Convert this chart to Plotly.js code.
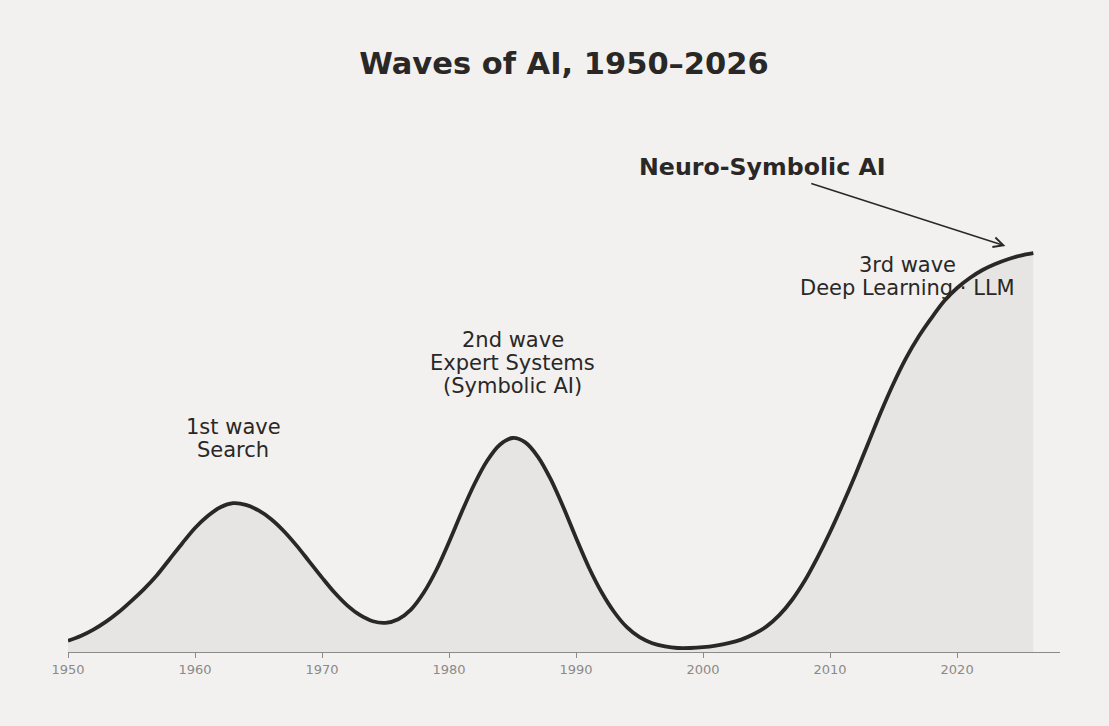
<!DOCTYPE html>
<html>
<head>
<meta charset="utf-8">
<script src="https://cdn.plot.ly/plotly-3.0.1.min.js"></script>
<style>html,body{margin:0;padding:0;background:#f2f1ef;}#chart{width:1109px;height:726px;}</style>
</head>
<body>
<div id="chart"></div>
<script>
// Years 1950–2026 and the "AI activity" curve (relative units, 2026 ≈ 1)
const years = [1950,1951,1952,1953,1954,1955,1956,1957,1958,1959,
  1960,1961,1962,1963,1964,1965,1966,1967,1968,1969,
  1970,1971,1972,1973,1974,1975,1976,1977,1978,1979,
  1980,1981,1982,1983,1984,1985,1986,1987,1988,1989,
  1990,1991,1992,1993,1994,1995,1996,1997,1998,1999,
  2000,2001,2002,2003,2004,2005,2006,2007,2008,2009,
  2010,2011,2012,2013,2014,2015,2016,2017,2018,2019,
  2020,2021,2022,2023,2024,2025,2026];
const activity = [0.028,0.040,0.056,0.076,0.100,0.128,0.158,0.192,0.232,0.272,
  0.310,0.340,0.362,0.372,0.368,0.354,0.332,0.302,0.266,0.226,
  0.186,0.148,0.116,0.092,0.077,0.073,0.082,0.106,0.148,0.205,
  0.275,0.350,0.420,0.478,0.518,0.535,0.524,0.488,0.432,0.362,
  0.285,0.212,0.150,0.100,0.062,0.037,0.022,0.014,0.010,0.010,
  0.012,0.016,0.022,0.031,0.045,0.064,0.092,0.130,0.178,0.236,
  0.300,0.370,0.444,0.522,0.600,0.672,0.736,0.790,0.836,0.878,
  0.910,0.935,0.955,0.970,0.982,0.991,0.997];

// Wave labels
const waveX = [1963, 1985, 2016.1];
const waveY = [0.534, 0.722, 0.939];
const waveLines = [["1st wave","Search"],["2nd wave","Expert Systems","(Symbolic AI)"],["3rd wave","Deep Learning · LLM"]];

const calloutText = "Neuro-Symbolic AI";
const calloutPos = [2004.7, 1.2125];
const arrowHead = [2023.8, 1.015];
const arrowTail = [2008.4, 1.1725];

const tickVals = [1950,1960,1970,1980,1990,2000,2010,2020];
const tickText = ["1950","1960","1970","1980","1990","2000","2010","2020"];

const ink = '#2a2826';
const font = 'DejaVu Sans, sans-serif';

const annotations = [];
const lineGap = 23;
waveLines.forEach((lines, i) => {
  const n = lines.length;
  lines.forEach((t, j) => {
    annotations.push({
      x: waveX[i], y: waveY[i], xref: 'x', yref: 'y',
      text: t, showarrow: false,
      xanchor: 'center', yanchor: 'middle',
      yshift: ((n - 1) / 2 - j) * lineGap,
      font: {family: font, size: 21, color: ink}
    });
  });
});
annotations.push({
  x: calloutPos[0], y: calloutPos[1], xref: 'x', yref: 'y',
  text: '<b>' + calloutText + '</b>', showarrow: false,
  xanchor: 'center', yanchor: 'middle',
  font: {family: font, size: 23.7, color: ink}
});
annotations.push({
  x: arrowHead[0], y: arrowHead[1], xref: 'x', yref: 'y',
  ax: arrowTail[0], ay: arrowTail[1], axref: 'x', ayref: 'y',
  text: '', showarrow: true, arrowhead: 5, arrowsize: 1.3, arrowwidth: 1.5,
  arrowcolor: ink, standoff: 0, startstandoff: 0
});

const trace = {
  x: years, y: activity, type: 'scatter', mode: 'lines',
  line: {color: ink, width: 3.8, shape: 'spline', smoothing: 0.9},
  fill: 'tozeroy', fillcolor: '#e6e5e3',
  hoverinfo: 'skip'
};

const layout = {
  width: 1109, height: 726,
  paper_bgcolor: '#f2f1ef', plot_bgcolor: '#f2f1ef',
  margin: {l: 68, r: 49, t: 100, b: 74},
  showlegend: false,
  title: {
    text: '<b>Waves of AI, 1950–2026</b>',
    font: {family: font, size: 30.5, color: ink},
    x: 0.5, xref: 'paper', xanchor: 'center',
    y: 1 - 63/726, yref: 'container', yanchor: 'middle'
  },
  xaxis: {
    range: [1950, 2028.1], showgrid: false, zeroline: false,
    showline: true, linecolor: '#8a8a8a', linewidth: 1,
    ticks: 'outside', ticklen: 5, tickwidth: 1, tickcolor: '#8a8a8a',
    tickvals: tickVals, ticktext: tickText,
    tickfont: {family: font, size: 13, color: '#8a8a8a'}
  },
  yaxis: {
    range: [0, 1.38], visible: false, showgrid: false, zeroline: false
  },
  annotations: annotations,
  font: {family: font}
};

Plotly.newPlot('chart', [trace], layout, {displayModeBar: false, staticPlot: true});
</script>
</body>
</html>
